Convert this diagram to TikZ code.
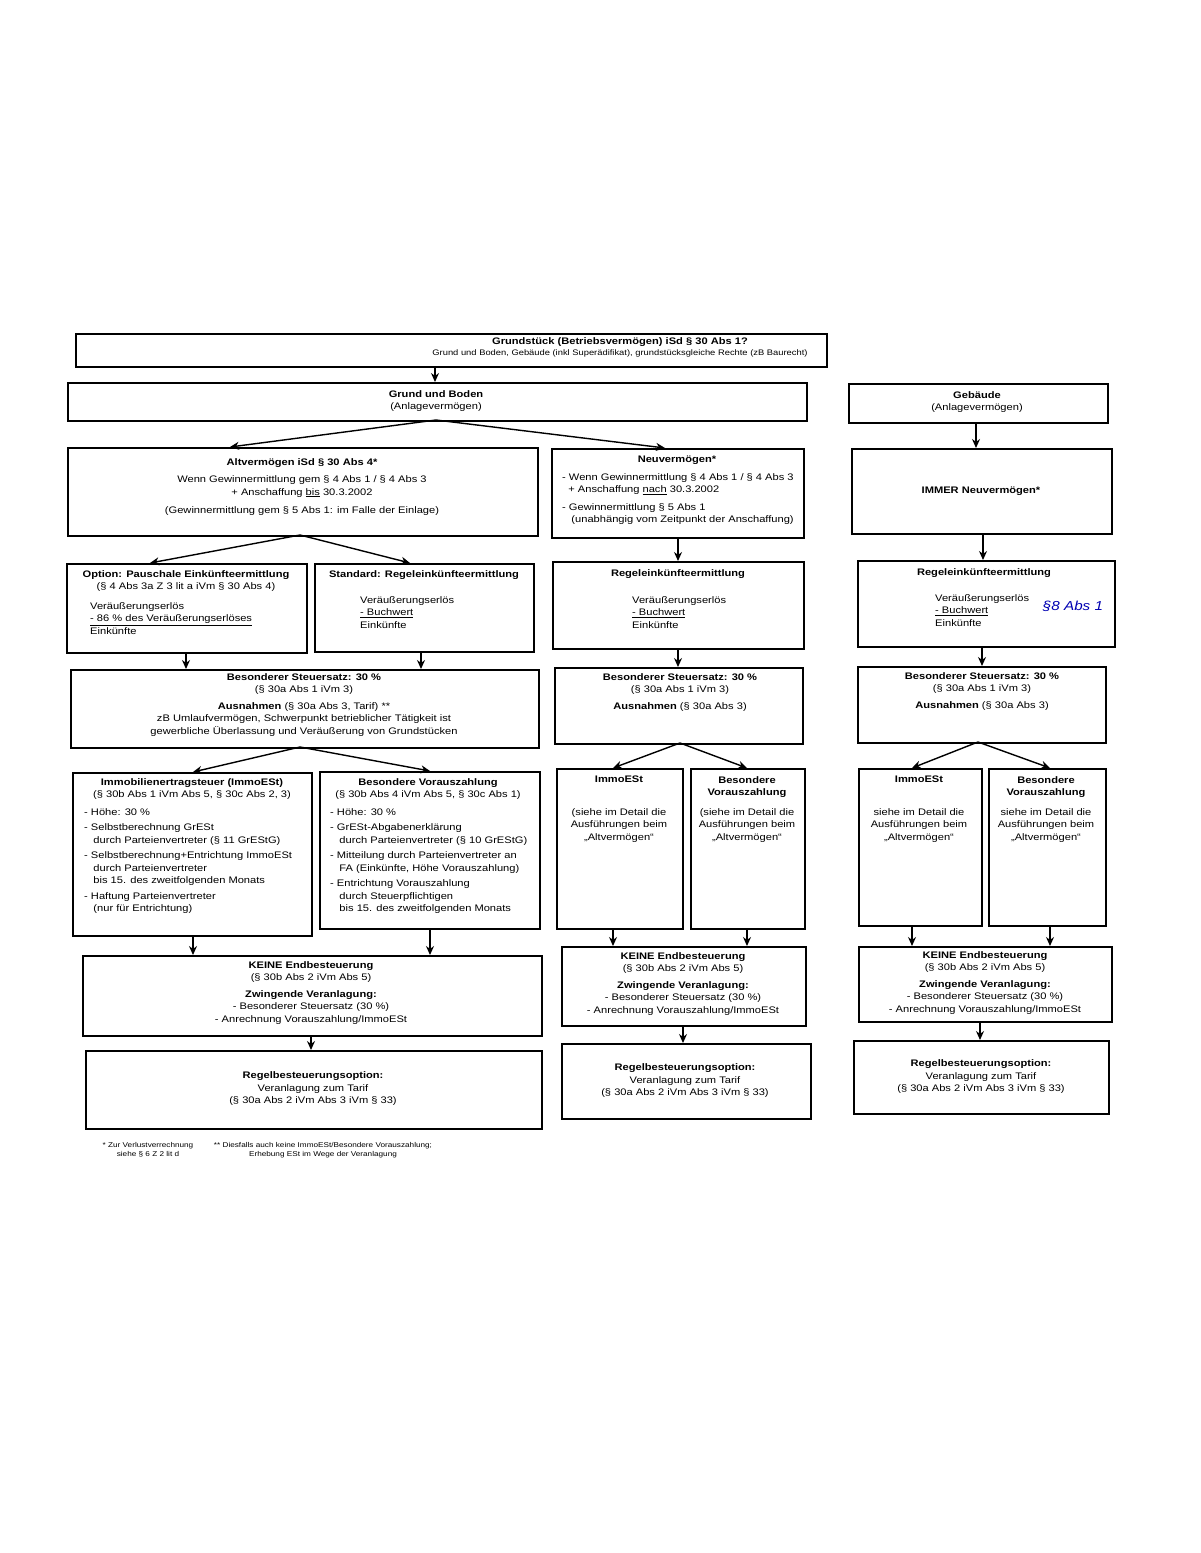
\documentclass[tikz,border=0pt]{standalone}
\usepackage{fontspec}
\setmainfont{Liberation Sans}[FakeStretch=1.17]
\usetikzlibrary{arrows.meta}
\begin{document}
\begin{tikzpicture}[x=1pt,y=-1pt,
  box/.style={draw,line width=2pt,anchor=north west,inner sep=0pt},
  txt/.style={inner sep=0pt,align=center,font=\fontsize{9.5}{12.5}\selectfont},
  ltxt/.style={txt,align=left},
  arr/.style={line width=1.4pt,-{Stealth[length=9pt,width=8pt]}}]
\useasboundingbox (0,0) rectangle (1200,1553);
\newcommand\bx[5]{\node[box,minimum width={(#4-#2)*1pt},minimum height={(#5-#3)*1pt}] (#1) at (#2,#3) {};}
% boxes
\bx{top}{75}{333}{826}{366}
\bx{gub}{67}{382}{806}{420}
\bx{geb}{848}{383}{1107}{422}
\bx{alt}{67}{447}{537}{535}
\bx{neu}{551}{448}{803}{537}
\bx{imm}{851}{448}{1111}{533}
\bx{opt}{66}{563}{306}{652}
\bx{std}{314}{563}{533}{651}
\bx{rm}{552}{561}{803}{648}
\bx{rr}{857}{560}{1114}{646}
\bx{bl}{70}{669}{538}{747}
\bx{bm}{554}{667}{802}{743}
\bx{br}{857}{666}{1105}{742}
\bx{iel}{72}{772}{311}{935}
\bx{bvl}{319}{771}{539}{928}
\bx{iem}{556}{768}{682}{928}
\bx{bvm}{690}{768}{804}{928}
\bx{ier}{858}{768}{981}{925}
\bx{bvr}{988}{768}{1105}{925}
\bx{kl}{82}{955}{541}{1035}
\bx{km}{561}{946}{805}{1025}
\bx{kr}{858}{946}{1111}{1021}
\bx{rgl}{85}{1050}{541}{1128}
\bx{rgm}{561}{1043}{810}{1118}
\bx{rgr}{853}{1040}{1108}{1113}
% texts
\node[txt,anchor=north] (ttop) at (620,337) {\textbf{Grundstück (Betriebsvermögen) iSd § 30 Abs 1?}\\[-1pt]{\fontsize{8}{12}\selectfont Grund und Boden, Gebäude (inkl Superädifikat), grundstücksgleiche Rechte (zB Baurecht)}};
\node[txt,anchor=north] (tgub) at (436,390) {\textbf{Grund und Boden}\\(Anlagevermögen)};
\node[txt,anchor=north] (tgeb) at (977,391) {\textbf{Gebäude}\\(Anlagevermögen)};
\node[txt,anchor=north] (talt) at (302,458) {\textbf{Altvermögen iSd § 30 Abs 4*}\\[5pt]Wenn Gewinnermittlung gem § 4 Abs 1 / § 4 Abs 3\\+ Anschaffung \underline{bis} 30.3.2002\\[6pt](Gewinnermittlung gem § 5 Abs 1: im Falle der Einlage)};
\node[txt,anchor=north] (tneuh) at (677,456) {\textbf{Neuvermögen*}};
\node[ltxt,anchor=north west] (tneu) at (562,473) {- Wenn Gewinnermittlung § 4 Abs 1 / § 4 Abs 3\\\ \ + Anschaffung \underline{nach} 30.3.2002\\[5pt]- Gewinnermittlung § 5 Abs 1\\\ \ \ (unabhängig vom Zeitpunkt der Anschaffung)};
\node[txt] (timm) at (981,491) {\textbf{IMMER Neuvermögen*}};
\node[txt,anchor=north] (topt) at (186,570) {\textbf{Option: Pauschale Einkünfteermittlung}\\(§ 4 Abs 3a Z 3 lit a iVm § 30 Abs 4)};
\node[ltxt,anchor=north west] (topt2) at (90,602) {Veräußerungserlös\\\underline{- 86 \% des Veräußerungserlöses}\\Einkünfte};
\node[txt,anchor=north] (tstd) at (424,570) {\textbf{Standard: Regeleinkünfteermittlung}};
\node[ltxt,anchor=north west] (tstd2) at (360,596) {Veräußerungserlös\\\underline{- Buchwert}\\Einkünfte};
\node[txt,anchor=north] (trm) at (678,569) {\textbf{Regeleinkünfteermittlung}};
\node[ltxt,anchor=north west] (trm2) at (632,596) {Veräußerungserlös\\\underline{- Buchwert}\\Einkünfte};
\node[txt,anchor=north] (trr) at (984,568) {\textbf{Regeleinkünfteermittlung}};
\node[ltxt,anchor=north west] (trr2) at (935,594) {Veräußerungserlös\\\underline{- Buchwert}\\Einkünfte};
\node[txt,text=blue!70!black,font=\fontsize{13}{13}\selectfont\itshape] (hand) at (1073,606) {§8 Abs 1};
\node[txt,anchor=north] (tbl) at (304,673) {\textbf{Besonderer Steuersatz: 30 \%}\\(§ 30a Abs 1 iVm 3)\\[4pt]\textbf{Ausnahmen} (§ 30a Abs 3, Tarif) **\\zB Umlaufvermögen, Schwerpunkt betrieblicher Tätigkeit ist\\gewerbliche Überlassung und Veräußerung von Grundstücken};
\node[txt,anchor=north] (tbm) at (680,673) {\textbf{Besonderer Steuersatz: 30 \%}\\(§ 30a Abs 1 iVm 3)\\[4pt]\textbf{Ausnahmen} (§ 30a Abs 3)};
\node[txt,anchor=north] (tbr) at (982,672) {\textbf{Besonderer Steuersatz: 30 \%}\\(§ 30a Abs 1 iVm 3)\\[4pt]\textbf{Ausnahmen} (§ 30a Abs 3)};
\node[txt,anchor=north] (tiel) at (192,778) {\textbf{Immobilienertragsteuer (ImmoESt)}\\(§ 30b Abs 1 iVm Abs 5, § 30c Abs 2, 3)};
\node[ltxt,anchor=north west] (tiel2) at (84,808) {- Höhe: 30 \%\\[3pt]- Selbstberechnung GrESt\\\ \ \ durch Parteienvertreter (§ 11 GrEStG)\\[3pt]- Selbstberechnung+Entrichtung ImmoESt\\\ \ \ durch Parteienvertreter\\\ \ \ bis 15. des zweitfolgenden Monats\\[3pt]- Haftung Parteienvertreter\\\ \ \ (nur für Entrichtung)};
\node[txt,anchor=north] (tbvl) at (428,778) {\textbf{Besondere Vorauszahlung}\\(§ 30b Abs 4 iVm Abs 5, § 30c Abs 1)};
\node[ltxt,anchor=north west] (tbvl2) at (330,808) {- Höhe: 30 \%\\[3pt]- GrESt-Abgabenerklärung\\\ \ \ durch Parteienvertreter (§ 10 GrEStG)\\[3pt]- Mitteilung durch Parteienvertreter an\\\ \ \ FA (Einkünfte, Höhe Vorauszahlung)\\[3pt]- Entrichtung Vorauszahlung\\\ \ \ durch Steuerpflichtigen\\\ \ \ bis 15. des zweitfolgenden Monats};
\node[txt,anchor=north] (tiem) at (619,776) {\textbf{ImmoESt}\\[20pt](siehe im Detail die\\Ausführungen beim\\„Altvermögen“};
\node[txt,anchor=north] (tbvm) at (747,776) {\textbf{Besondere}\\\textbf{Vorauszahlung}\\[7pt](siehe im Detail die\\Ausführungen beim\\„Altvermögen“};
\node[txt,anchor=north] (tier) at (919,776) {\textbf{ImmoESt}\\[20pt]siehe im Detail die\\Ausführungen beim\\„Altvermögen“};
\node[txt,anchor=north] (tbvr) at (1046,776) {\textbf{Besondere}\\\textbf{Vorauszahlung}\\[7pt]siehe im Detail die\\Ausführungen beim\\„Altvermögen“};
\node[txt,anchor=north] (tkl) at (311,961) {\textbf{KEINE Endbesteuerung}\\(§ 30b Abs 2 iVm Abs 5)\\[4pt]\textbf{Zwingende Veranlagung:}\\- Besonderer Steuersatz (30 \%)\\- Anrechnung Vorauszahlung/ImmoESt};
\node[txt,anchor=north] (tkm) at (683,952) {\textbf{KEINE Endbesteuerung}\\(§ 30b Abs 2 iVm Abs 5)\\[4pt]\textbf{Zwingende Veranlagung:}\\- Besonderer Steuersatz (30 \%)\\- Anrechnung Vorauszahlung/ImmoESt};
\node[txt,anchor=north] (tkr) at (985,951) {\textbf{KEINE Endbesteuerung}\\(§ 30b Abs 2 iVm Abs 5)\\[4pt]\textbf{Zwingende Veranlagung:}\\- Besonderer Steuersatz (30 \%)\\- Anrechnung Vorauszahlung/ImmoESt};
\node[txt] (trgl) at (313,1089) {\textbf{Regelbesteuerungsoption:}\\Veranlagung zum Tarif\\(§ 30a Abs 2 iVm Abs 3 iVm § 33)};
\node[txt] (trgm) at (685,1081) {\textbf{Regelbesteuerungsoption:}\\Veranlagung zum Tarif\\(§ 30a Abs 2 iVm Abs 3 iVm § 33)};
\node[txt] (trgr) at (981,1077) {\textbf{Regelbesteuerungsoption:}\\Veranlagung zum Tarif\\(§ 30a Abs 2 iVm Abs 3 iVm § 33)};
\node[txt,font=\fontsize{7}{9}\selectfont] (fn1) at (148,1150) {* Zur Verlustverrechnung\\siehe § 6 Z 2 lit d};
\node[txt,font=\fontsize{7}{9}\selectfont] (fn2) at (323,1150) {** Diesfalls auch keine ImmoESt/Besondere Vorauszahlung;\\Erhebung ESt im Wege der Veranlagung};
% arrows
\draw[arr] (top.south -| 435,0) -- (gub.north -| 435,0);
\draw[arr] (436,420) -- (alt.north -| 230,0);
\draw[arr] (436,420) -- (neu.north -| 665,0);
\draw[arr] (geb.south -| 976,0) -- (imm.north -| 976,0);
\draw[arr] (300,535) -- (opt.north -| 150,0);
\draw[arr] (300,535) -- (std.north -| 410,0);
\draw[arr] (neu.south -| 678,0) -- (rm.north -| 678,0);
\draw[arr] (imm.south -| 983,0) -- (rr.north -| 983,0);
\draw[arr] (opt.south -| 186,0) -- (bl.north -| 186,0);
\draw[arr] (std.south -| 421,0) -- (bl.north -| 421,0);
\draw[arr] (rm.south -| 678,0) -- (bm.north -| 678,0);
\draw[arr] (rr.south -| 982,0) -- (br.north -| 982,0);
\draw[arr] (300,747) -- (iel.north -| 193,0);
\draw[arr] (300,747) -- (bvl.north -| 430,0);
\draw[arr] (680,743) -- (iem.north -| 613,0);
\draw[arr] (680,743) -- (bvm.north -| 747,0);
\draw[arr] (978,742) -- (ier.north -| 912,0);
\draw[arr] (978,742) -- (bvr.north -| 1050,0);
\draw[arr] (iel.south -| 193,0) -- (kl.north -| 193,0);
\draw[arr] (bvl.south -| 430,0) -- (kl.north -| 430,0);
\draw[arr] (iem.south -| 613,0) -- (km.north -| 613,0);
\draw[arr] (bvm.south -| 747,0) -- (km.north -| 747,0);
\draw[arr] (ier.south -| 912,0) -- (kr.north -| 912,0);
\draw[arr] (bvr.south -| 1050,0) -- (kr.north -| 1050,0);
\draw[arr] (kl.south -| 311,0) -- (rgl.north -| 311,0);
\draw[arr] (km.south -| 683,0) -- (rgm.north -| 683,0);
\draw[arr] (kr.south -| 980,0) -- (rgr.north -| 980,0);
\end{tikzpicture}
\end{document}
